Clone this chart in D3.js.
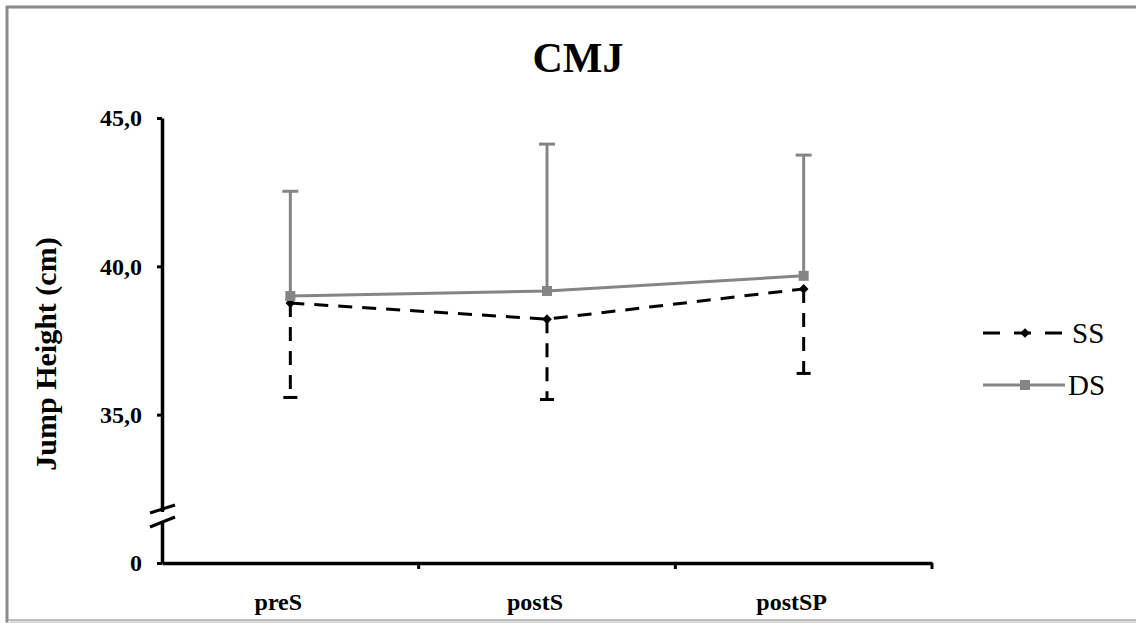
<!DOCTYPE html>
<html>
<head>
<meta charset="utf-8">
<script src="https://cdn.jsdelivr.net/npm/d3@7"></script>
<style>
  body { margin: 0; background: #fff; }
  svg text { font-family: "Liberation Serif", "Times New Roman", "DejaVu Serif", serif; }
</style>
</head>
<body>
<div id="chart"></div>
<script>
// data
const categories = ["preS", "postS", "postSP"];
const ssMean = [38.76, 38.22, 39.24];
const ssSD = [3.18, 2.71, 2.85];     // drawn downwards
const dsMean = [39.0, 39.17, 39.68];
const dsSD = [3.53, 4.95, 4.07];     // drawn upwards
const yTickValues = [30, 35, 40, 45];
const yTickLabels = ["0", "35,0", "40,0", "45,0"];

const W = 1136, H = 623;
const plotLeft = 162, plotRight = 932, plotTop = 118, plotBottom = 563;
const serif = "'Liberation Serif', 'Times New Roman', 'DejaVu Serif', serif";

const svg = d3.select("#chart").append("svg")
  .attr("width", W).attr("height", H)
  .attr("font-family", serif);

// frame
svg.append("rect").attr("x", 7).attr("y", 7).attr("width", 1140).attr("height", 614)
  .attr("fill", "none").attr("stroke", "#8a8a8a").attr("stroke-width", 3);
svg.append("line").attr("x1", 8).attr("x2", W).attr("y1", 621.5).attr("y2", 621.5)
  .attr("stroke", "#e4e4e4").attr("stroke-width", 2);

// scales
const x = d3.scaleBand().domain(categories).range([plotLeft, plotRight]);
const y = d3.scaleLinear().domain([30, 45]).range([plotBottom, plotTop]);
const cx = d => x(d) + x.bandwidth() / 2;

// title
svg.append("text").attr("x", 578).attr("y", 72).attr("text-anchor", "middle")
  .attr("font-size", 42).attr("font-weight", "bold").text("CMJ");

// y axis
const yAxis = svg.append("g").attr("transform", `translate(${plotLeft},0)`)
  .call(d3.axisLeft(y).tickValues(yTickValues)
    .tickFormat((d, i) => yTickLabels[i]).tickSize(5).tickSizeOuter(0).tickPadding(15))
  .attr("font-family", null).attr("font-size", null);
yAxis.select(".domain").attr("stroke-width", 3.5);
yAxis.selectAll(".tick line").attr("stroke-width", 3);
yAxis.selectAll(".tick text").attr("font-size", 24).attr("font-weight", "bold")
  .attr("fill", "#000");

// x axis
const xAxis = svg.append("g").attr("transform", `translate(0,${plotBottom})`)
  .call(d3.axisBottom(x).tickSize(0).tickPadding(30))
  .attr("font-family", null).attr("font-size", null);
xAxis.select(".domain").attr("stroke-width", 3.5);
xAxis.selectAll(".tick text").attr("font-size", 24).attr("font-weight", "bold")
  .attr("fill", "#000").attr("dx", -12);
// category boundary ticks
xAxis.selectAll(".bound").data(categories.slice(1).concat(["end"]))
  .enter().append("line")
  .attr("x1", d => d === "end" ? plotRight : x(d))
  .attr("x2", d => d === "end" ? plotRight : x(d))
  .attr("y1", 0).attr("y2", 6).attr("stroke", "#000").attr("stroke-width", 3);

// axis break
const brk = svg.append("g");
brk.append("rect").attr("x", plotLeft - 4).attr("y", 512).attr("width", 8).attr("height", 9)
  .attr("fill", "#fff");
[[513, 505], [527, 517]].forEach(p => {
  brk.append("line").attr("x1", 150).attr("y1", p[0]).attr("x2", 175).attr("y2", p[1])
    .attr("stroke", "#000").attr("stroke-width", 3);
});

// y title
svg.append("text").attr("transform", "translate(56,354) rotate(-90)")
  .attr("text-anchor", "middle").attr("font-size", 30).attr("font-weight", "bold")
  .text("Jump Height (cm)");

const ssColor = "#000", dsColor = "#858585";
const line = d3.line().x(d => cx(d.c)).y(d => y(d.v));

// SS series
const ss = categories.map((c, i) => ({ c: c, v: ssMean[i], sd: ssSD[i] }));
svg.append("g").selectAll("line").data(ss).enter().append("line")
  .attr("x1", d => cx(d.c)).attr("x2", d => cx(d.c))
  .attr("y1", d => y(d.v)).attr("y2", d => y(d.v - d.sd))
  .attr("stroke", ssColor).attr("stroke-width", 3).attr("stroke-dasharray", "14,10");
svg.append("g").selectAll("line").data(ss).enter().append("line")
  .attr("x1", d => cx(d.c) - 7).attr("x2", d => cx(d.c) + 7)
  .attr("y1", d => y(d.v - d.sd)).attr("y2", d => y(d.v - d.sd))
  .attr("stroke", ssColor).attr("stroke-width", 3);
svg.append("path").datum(ss).attr("d", line).attr("fill", "none")
  .attr("stroke", ssColor).attr("stroke-width", 3).attr("stroke-dasharray", "14,10");
svg.append("g").selectAll("path").data(ss).enter().append("path")
  .attr("d", d3.symbol(d3.symbolDiamond2, 60))
  .attr("transform", d => `translate(${cx(d.c)},${y(d.v)})`).attr("fill", ssColor);

// DS series
const ds = categories.map((c, i) => ({ c: c, v: dsMean[i], sd: dsSD[i] }));
svg.append("g").selectAll("line").data(ds).enter().append("line")
  .attr("x1", d => cx(d.c)).attr("x2", d => cx(d.c))
  .attr("y1", d => y(d.v)).attr("y2", d => y(d.v + d.sd))
  .attr("stroke", dsColor).attr("stroke-width", 3);
svg.append("g").selectAll("line").data(ds).enter().append("line")
  .attr("x1", d => cx(d.c) - 8).attr("x2", d => cx(d.c) + 8)
  .attr("y1", d => y(d.v + d.sd)).attr("y2", d => y(d.v + d.sd))
  .attr("stroke", dsColor).attr("stroke-width", 3);
svg.append("path").datum(ds).attr("d", line).attr("fill", "none")
  .attr("stroke", dsColor).attr("stroke-width", 3);
svg.append("g").selectAll("rect").data(ds).enter().append("rect")
  .attr("x", d => cx(d.c) - 5).attr("y", d => y(d.v) - 5)
  .attr("width", 10).attr("height", 10).attr("fill", dsColor);

// legend
const lg = svg.append("g");
lg.append("line").attr("x1", 983).attr("x2", 1063).attr("y1", 333).attr("y2", 333)
  .attr("stroke", ssColor).attr("stroke-width", 3).attr("stroke-dasharray", "17,14");
lg.append("path").attr("d", d3.symbol(d3.symbolDiamond2, 60))
  .attr("transform", "translate(1025,333)").attr("fill", ssColor);
lg.append("text").attr("x", 1072).attr("y", 343).attr("font-size", 29).text("SS");
lg.append("line").attr("x1", 983).attr("x2", 1065).attr("y1", 385).attr("y2", 385)
  .attr("stroke", dsColor).attr("stroke-width", 3);
lg.append("rect").attr("x", 1020).attr("y", 380).attr("width", 10).attr("height", 10)
  .attr("fill", dsColor);
lg.append("text").attr("x", 1068).attr("y", 395).attr("font-size", 29).text("DS");
</script>
</body>
</html>
